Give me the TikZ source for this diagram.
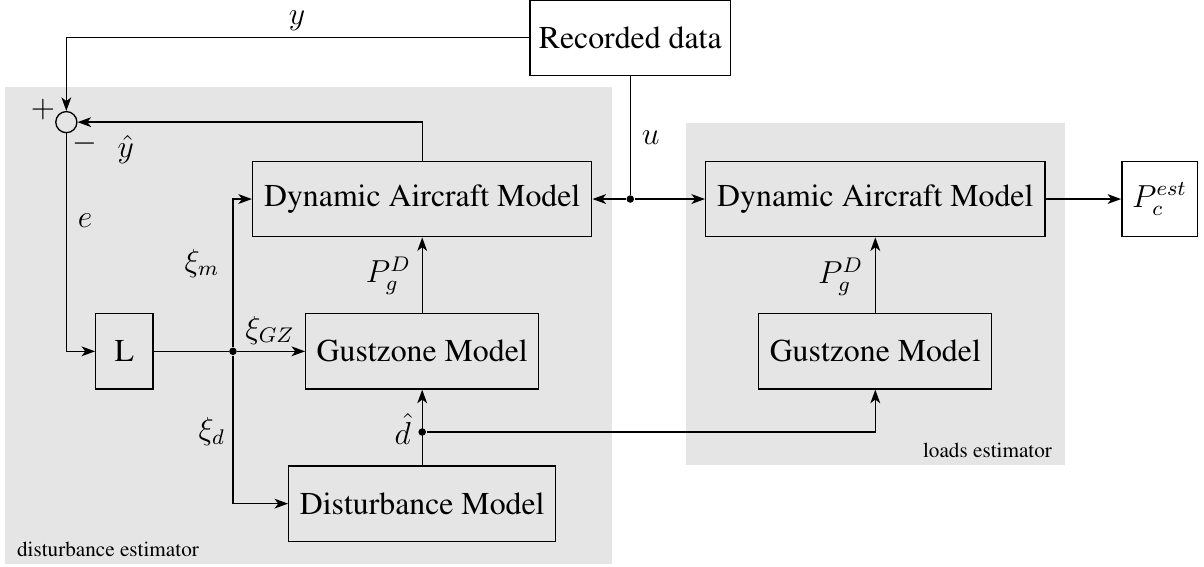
\documentclass[tikz,border=0pt]{standalone}
\usepackage[T1]{fontenc}
\usepackage{times}
\usetikzlibrary{arrows.meta}

\begin{document}
\begin{tikzpicture}[
	font=\fontsize{12}{14}\selectfont,
	line width=0.5pt,
	>={Stealth[length=1.8mm, width=1.3mm, inset=0.5mm]},
	block/.style={shape=rectangle, draw, minimum height=1cm},
	sumnode/.style={shape=circle, draw, inner sep=0pt, minimum size=0.28cm},
	dot/.style={shape=circle, fill, inner sep=0pt, minimum size=1mm},
	area/.style={fill=gray!20},
	areatext/.style={font=\fontsize{8}{10}\selectfont}
]
	\useasboundingbox (0,0) rectangle (15.97,7.52);
	% Shaded areas
	\fill[area] (0.07,0.04) rectangle (8.12,6.37);
	\fill[area] (9.10,1.35) rectangle (14.12,5.89);
	\node[areatext, anchor=west] (DElab) at (0.10,0.23) {disturbance estimator};
	\node[areatext, anchor=east] (LElab) at (14.08,1.55) {loads estimator};
	% Disturbance estimator blocks
	\node[block] (RD) at (8.36,7.02) {Recorded data};
	\node[sumnode] (S) at (0.88,5.90) {};
	\node[block, minimum width=0.76cm] (L) at (1.65,2.86) {L};
	\node[dot] (J) at (3.09,2.86) {};
	\node[block, minimum width=4.5cm] (DAM1) at (5.60,4.88) {Dynamic Aircraft Model};
	\node[block, minimum width=3.09cm] (GZ1) at (5.60,2.86) {Gustzone Model};
	\node[block, minimum width=3.54cm] (DM) at (5.60,0.84) {Disturbance Model};
	\node[dot] (D) at (5.60,1.79) {};
	\node[dot] (U) at (8.36,4.88) {};
	% Loads estimator blocks
	\node[block, minimum width=4.5cm] (DAM2) at (11.61,4.88) {Dynamic Aircraft Model};
	\node[block, minimum width=3.09cm] (GZ2) at (11.61,2.86) {Gustzone Model};
	\node[block, minimum width=1cm] (PC) at (15.38,4.88) {$P_c^{est}$};
	% Connections in the disturbance estimator
	\draw[->] (RD.west) -| (S.north);
	\draw[->] (DAM1.north) |- (S.east);
	\draw[->] (S.south) |- (L.west);
	\draw (L.east) -- (J);
	\draw[->] (J) -- (GZ1.west);
	\draw[->] (J) |- (DAM1.west);
	\draw[->] (J) |- (DM.west);
	\draw[->] (GZ1.north) -- (DAM1.south);
	\draw[->] (DM.north) -- (GZ1.south);
	% Connections to the loads estimator
	\draw (RD.south) -- (U);
	\draw[->] (U) -- (DAM1.east);
	\draw[->] (U) -- (DAM2.west);
	\draw[->] (D) -| (GZ2.south);
	\draw[->] (GZ2.north) -- (DAM2.south);
	\draw[->] (DAM2.east) -- (PC.west);
	% Signal labels
	\node (ylab) at (3.94,7.25) {$y$};
	\node (plus) at (0.57,6.07) {$+$};
	\node (minus) at (1.13,5.61) {$-$};
	\node (yhat) at (1.67,5.53) {$\hat{y}$};
	\node (elab) at (1.13,4.59) {$e$};
	\node (xim) at (2.68,4.03) {$\xi_m$};
	\node (xigz) at (3.58,3.14) {$\xi_{GZ}$};
	\node (xid) at (2.81,1.79) {$\xi_d$};
	\node (pg1) at (5.15,3.86) {$P_g^D$};
	\node (dhat) at (5.34,1.83) {$\hat{d}$};
	\node (ulab) at (8.63,5.70) {$u$};
	\node (pg2) at (11.15,3.85) {$P_g^D$};
\end{tikzpicture}
\end{document}
